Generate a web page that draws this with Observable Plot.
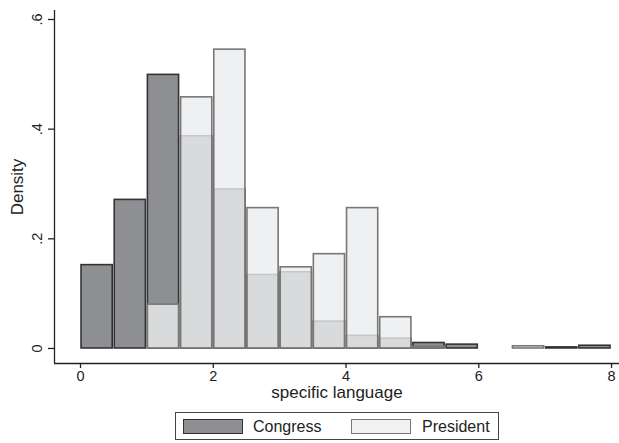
<!DOCTYPE html>
<html>
<head>
<meta charset="utf-8">
<script src="https://cdn.jsdelivr.net/npm/d3@7"></script>
<script src="https://cdn.jsdelivr.net/npm/@observablehq/plot@0.6"></script>
<style>
  html, body { margin: 0; padding: 0; background: white; }
  #wrap { position: relative; width: 619px; height: 443px; font-family: "Liberation Sans", Arial, sans-serif; }
  #legend { position: absolute; left: 175px; top: 412px; width: 324px; height: 28px; border: 1px solid #444; box-sizing: border-box; font-size: 16px; color: #222; }
  .sw { position: absolute; top: 6px; width: 60px; height: 15px; box-sizing: border-box; }
  .lb { position: absolute; top: 5px; line-height: 18px; }
</style>
</head>
<body>
<div id="wrap">
  <div id="chart"></div>
  <div id="legend">
    <div class="sw" style="left:7px; background:#8e8f93; border:1.6px solid #333;"></div>
    <div class="lb" style="left:77px;">Congress</div>
    <div class="sw" style="left:175px; background:#f0f1f3; border:1.6px solid #777;"></div>
    <div class="lb" style="left:246px;">President</div>
  </div>
</div>
<script>
// Bin edges (width 0.5)
const binLo = [0, 0.5, 1, 1.5, 2, 2.5, 3, 3.5, 4, 4.5, 5, 5.5, 6, 6.5, 7, 7.5];
const binHi = [0.5, 1, 1.5, 2, 2.5, 3, 3.5, 4, 4.5, 5, 5.5, 6, 6.5, 7, 7.5, 8];
// Densities
const congress  = [0.152, 0.271, 0.499, 0.387, 0.290, 0.134, 0.139, 0.049, 0.023, 0.018, 0.010, 0.007, 0, 0, 0.002, 0.005];
const president = [0, 0, 0.080, 0.458, 0.545, 0.256, 0.148, 0.172, 0.256, 0.057, 0.003, 0, 0, 0.004, 0, 0];
const xTicks = [0, 2, 4, 6, 8];
const yTicks = [0, 0.2, 0.4, 0.6];
const xDomain = [-0.392, 8.12];
const yDomain = [-0.0274, 0.6164];
const xLabel = "specific language";
const yLabel = "Density";

const toRows = vals => vals.map((v, i) => ({x1: binLo[i], x2: binHi[i], y: v})).filter(d => d.y > 0);
const cRows = toRows(congress);
const pRows = toRows(president);

const fmt = d => d === 0 ? "0" : String(+d.toFixed(1)).replace(/^0/, "");

const chart = Plot.plot({
  width: 619,
  height: 405,
  marginTop: 10,
  marginBottom: 42,
  marginLeft: 54,
  marginRight: 0,
  x: {domain: xDomain},
  y: {domain: yDomain},
  style: {fontFamily: "'Liberation Sans', Arial, sans-serif", fontSize: "14.5px", color: "#222", background: "white"},
  marks: [
    Plot.rectY(cRows, {x1: "x1", x2: "x2", y1: () => 0, y2: "y", fill: "#8e8f93", stroke: "#333", strokeWidth: 1.6, insetLeft: 1, insetRight: 1}),
    Plot.rectY(pRows, {x1: "x1", x2: "x2", y1: () => 0, y2: "y", fill: "#ebecee", fillOpacity: 0.8, stroke: "#777", strokeWidth: 1.6, insetLeft: 1, insetRight: 1}),
    Plot.ruleX([xDomain[0]], {stroke: "#222", strokeWidth: 1.3}),
    Plot.ruleY([yDomain[0]], {stroke: "#222", strokeWidth: 1.3}),
    Plot.axisX({ticks: xTicks, tickSize: 5, tickPadding: 2, label: null, stroke: "#222", strokeWidth: 1.3, fontSize: 14.5}),
    Plot.axisY({ticks: yTicks, tickSize: 6, tickFormat: () => "", label: null, stroke: "#222", strokeWidth: 1.3}),
    Plot.text(yTicks, {x: xDomain[0], y: d => d, text: fmt, rotate: -90, textAnchor: "middle", lineAnchor: "bottom", dx: -13, fontSize: 14.5, fill: "#222"}),
    Plot.text([xLabel], {frameAnchor: "bottom", dy: 34, fontSize: 17, fill: "#222"}),
    Plot.text([yLabel], {frameAnchor: "left", textAnchor: "middle", dx: -37, rotate: -90, fontSize: 17, fill: "#222"})
  ]
});
document.getElementById("chart").appendChild(chart);
</script>
</body>
</html>
